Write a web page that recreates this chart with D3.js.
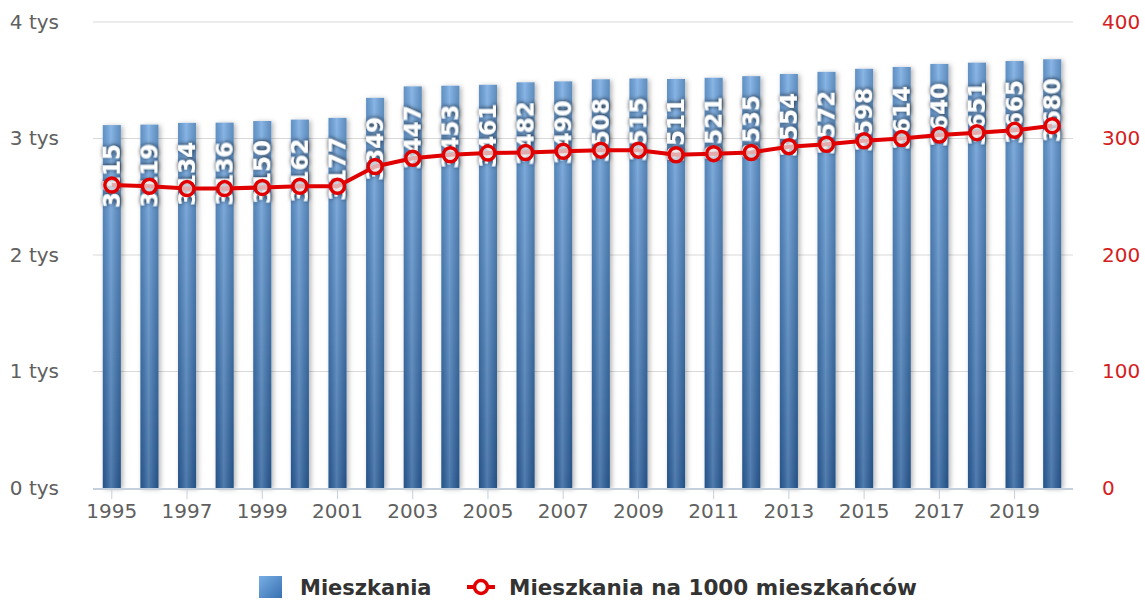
<!DOCTYPE html>
<html>
<head>
<meta charset="utf-8">
<script src="https://cdn.jsdelivr.net/npm/d3@7"></script>
<style>
  body { margin: 0; background: #fff; }
  svg { display: block; font-family: "DejaVu Sans", Verdana, sans-serif; }
</style>
</head>
<body>
<div id="chart"></div>
<script>
// ---- data ----
var years = [1995, 1996, 1997, 1998, 1999, 2000, 2001, 2002, 2003, 2004, 2005, 2006, 2007,
             2008, 2009, 2010, 2011, 2012, 2013, 2014, 2015, 2016, 2017, 2018, 2019, 2020];
var mieszkania = [3115, 3119, 3134, 3136, 3150, 3162, 3177, 3349, 3447, 3453, 3461, 3482, 3490,
                  3508, 3515, 3511, 3521, 3535, 3554, 3572, 3598, 3614, 3640, 3651, 3665, 3680];
var na1000 = [260, 259, 257, 257, 258, 259, 259, 276, 283, 286, 287.5, 288, 289,
              290, 290, 286, 287, 288, 293, 295, 298, 300, 303, 305, 307, 311];
var leftTicks = [0, 1000, 2000, 3000, 4000];
var rightTicks = [0, 100, 200, 300, 400];
var seriesNames = ["Mieszkania", "Mieszkania na 1000 mieszkańców"];

var width = 1145, height = 601;
var plotL = 93, plotR = 1071, plotT = 22, plotB = 488;

var svg = d3.select("#chart").append("svg")
    .attr("width", width)
    .attr("height", height);

var defs = svg.append("defs");

var vg = defs.append("linearGradient").attr("id", "barV")
    .attr("x1", 0).attr("y1", 0).attr("x2", 0).attr("y2", 1);
vg.append("stop").attr("offset", "0%").attr("stop-color", "#6fa6e0");
vg.append("stop").attr("offset", "100%").attr("stop-color", "#2b5f9c");

var hg = defs.append("linearGradient").attr("id", "barH")
    .attr("x1", 0).attr("y1", 0).attr("x2", 1).attr("y2", 0);
hg.append("stop").attr("offset", "0%").attr("stop-color", "#000").attr("stop-opacity", 0.12);
hg.append("stop").attr("offset", "45%").attr("stop-color", "#fff").attr("stop-opacity", 0.18);
hg.append("stop").attr("offset", "100%").attr("stop-color", "#000").attr("stop-opacity", 0.15);

var lg = defs.append("linearGradient").attr("id", "legBox")
    .attr("x1", 0).attr("y1", 0).attr("x2", 1).attr("y2", 1);
lg.append("stop").attr("offset", "0%").attr("stop-color", "#79afe6");
lg.append("stop").attr("offset", "100%").attr("stop-color", "#3670b0");

var shadow = defs.append("filter").attr("id", "barShadow")
    .attr("x", "-50%").attr("y", "-10%").attr("width", "200%").attr("height", "120%");
shadow.append("feDropShadow").attr("dx", 2).attr("dy", 1).attr("stdDeviation", 2.5)
    .attr("flood-color", "#000").attr("flood-opacity", 0.3);

var txtShadow = defs.append("filter").attr("id", "txtShadow")
    .attr("x", "-30%").attr("y", "-30%").attr("width", "160%").attr("height", "160%");
txtShadow.append("feDropShadow").attr("dx", 0.5).attr("dy", 0.5).attr("stdDeviation", 2)
    .attr("flood-color", "#111").attr("flood-opacity", 0.85);

// ---- scales ----
var x = d3.scaleBand().domain(years).range([plotL, plotR]).paddingInner(0.52).paddingOuter(0.26);
var yL = d3.scaleLinear().domain([0, 4000]).range([plotB, plotT]);
var yR = d3.scaleLinear().domain([0, 400]).range([plotB, plotT]);

// grid
svg.append("g").selectAll("line")
    .data(leftTicks.filter(function(d) { return d > 0; }))
    .enter().append("line")
    .attr("x1", plotL).attr("x2", plotR + 2)
    .attr("y1", function(d) { return yL(d); })
    .attr("y2", function(d) { return yL(d); })
    .attr("stroke", "#d9d9d9").attr("stroke-width", 1);

// left axis
var axL = svg.append("g").attr("transform", "translate(" + (plotL - 31) + ",0)")
    .call(d3.axisLeft(yL).tickValues(leftTicks).tickSize(0)
        .tickFormat(function(d) { return (d / 1000) + " tys"; }));
axL.select(".domain").remove();
axL.selectAll("text").attr("font-size", 20).attr("fill", "#606060")
    .attr("font-family", "DejaVu Sans").attr("dy", "0.3em");

// right axis
var axR = svg.append("g").attr("transform", "translate(" + (plotR + 31) + ",0)")
    .call(d3.axisRight(yR).tickValues(rightTicks).tickSize(0));
axR.select(".domain").remove();
axR.selectAll("text").attr("font-size", 20).attr("fill", "#d42020")
    .attr("font-family", "DejaVu Sans").attr("dy", "0.3em").attr("x", 0);

// bars
var bars = svg.append("g");
bars.selectAll("rect.b")
    .data(mieszkania)
    .enter().append("rect").attr("class", "b")
    .attr("x", function(d, i) { return x(years[i]); })
    .attr("y", function(d) { return yL(d); })
    .attr("width", x.bandwidth())
    .attr("height", function(d) { return plotB - yL(d); })
    .attr("fill", "url(#barV)")
    .attr("filter", "url(#barShadow)");
bars.selectAll("rect.h")
    .data(mieszkania)
    .enter().append("rect").attr("class", "h")
    .attr("x", function(d, i) { return x(years[i]); })
    .attr("y", function(d) { return yL(d); })
    .attr("width", x.bandwidth())
    .attr("height", function(d) { return plotB - yL(d); })
    .attr("fill", "url(#barH)");

// x axis
var axX = svg.append("g").attr("transform", "translate(0," + (plotB + 1) + ")")
    .call(d3.axisBottom(x).tickValues(years.filter(function(d) { return d % 2 === 1; }))
        .tickSize(10).tickSizeOuter(0).tickPadding(5));
axX.select(".domain").attr("stroke", "#c4d0dc").attr("stroke-width", 2)
    .attr("d", "M" + plotL + ",0H" + (plotR + 2));
axX.selectAll(".tick line").attr("stroke", "#c4d0dc");
axX.selectAll("text").attr("font-size", 20).attr("fill", "#606060")
    .attr("font-family", "DejaVu Sans");

// data labels (under the line)
svg.append("g").selectAll("text")
    .data(mieszkania)
    .enter().append("text")
    .attr("transform", function(d, i) {
        return "translate(" + (x(years[i]) + x.bandwidth() / 2) + "," + (yL(d) + 19) + ") rotate(-90)";
    })
    .attr("text-anchor", "end")
    .attr("dy", "0.36em")
    .attr("font-size", 23)
    .attr("font-weight", "bold")
    .attr("fill", "#fff")
    .attr("filter", "url(#txtShadow)")
    .text(function(d) { return d; });

// line series
var line = d3.line()
    .x(function(d, i) { return x(years[i]) + x.bandwidth() / 2; })
    .y(function(d) { return yR(d); });
svg.append("path")
    .datum(na1000)
    .attr("d", line)
    .attr("fill", "none")
    .attr("stroke", "#e00000")
    .attr("stroke-width", 4)
    .attr("stroke-linejoin", "round");
svg.append("g").selectAll("circle")
    .data(na1000)
    .enter().append("circle")
    .attr("cx", function(d, i) { return x(years[i]) + x.bandwidth() / 2; })
    .attr("cy", function(d) { return yR(d); })
    .attr("r", 7)
    .attr("fill", "#e4e4e4")
    .attr("fill-opacity", 0.75)
    .attr("stroke", "#e00000")
    .attr("stroke-width", 3.5);

// legend
var leg = svg.append("g");
leg.append("rect").attr("x", 259).attr("y", 576).attr("width", 23).attr("height", 22)
    .attr("fill", "url(#legBox)");
leg.append("text").attr("x", 300).attr("y", 595).attr("font-size", 21)
    .attr("font-weight", "bold").attr("fill", "#333").text(seriesNames[0]);
leg.append("line").attr("x1", 467).attr("x2", 495).attr("y1", 587).attr("y2", 587)
    .attr("stroke", "#e00000").attr("stroke-width", 4);
leg.append("circle").attr("cx", 481).attr("cy", 587).attr("r", 6.5)
    .attr("fill", "#fff").attr("stroke", "#e00000").attr("stroke-width", 3.5);
leg.append("text").attr("x", 509).attr("y", 595).attr("font-size", 21.5)
    .attr("font-weight", "bold").attr("fill", "#333").text(seriesNames[1]);
</script>
</body>
</html>
